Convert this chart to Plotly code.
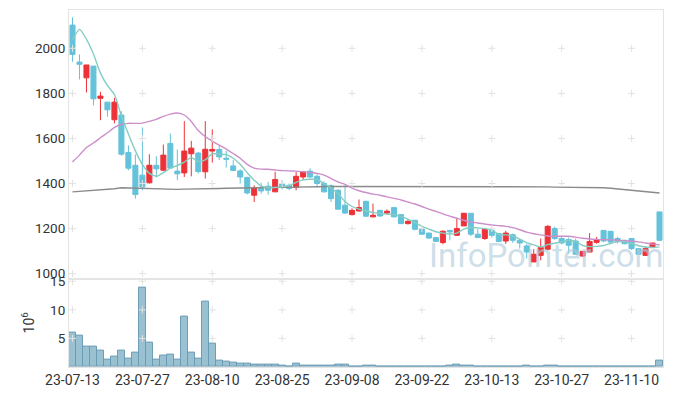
import plotly.graph_objects as go
from plotly.subplots import make_subplots

dates = [
    "23-07-13", "23-07-14", "23-07-17", "23-07-18", "23-07-19", "23-07-20", "23-07-21", "23-07-24", "23-07-25", "23-07-26",
    "23-07-27", "23-07-28", "23-07-31", "23-08-01", "23-08-02", "23-08-03", "23-08-04", "23-08-07", "23-08-08", "23-08-09",
    "23-08-10", "23-08-11", "23-08-14", "23-08-16", "23-08-17", "23-08-18", "23-08-21", "23-08-22", "23-08-23", "23-08-24",
    "23-08-25", "23-08-28", "23-08-29", "23-08-30", "23-08-31", "23-09-01", "23-09-04", "23-09-05", "23-09-06", "23-09-07",
    "23-09-08", "23-09-11", "23-09-12", "23-09-13", "23-09-14", "23-09-15", "23-09-18", "23-09-19", "23-09-20", "23-09-21",
    "23-09-22", "23-09-25", "23-09-26", "23-09-27", "23-10-04", "23-10-05", "23-10-06", "23-10-10", "23-10-11", "23-10-12",
    "23-10-13", "23-10-16", "23-10-17", "23-10-18", "23-10-19", "23-10-20", "23-10-23", "23-10-24", "23-10-25", "23-10-26",
    "23-10-27", "23-10-30", "23-10-31", "23-11-01", "23-11-02", "23-11-03", "23-11-06", "23-11-07", "23-11-08", "23-11-09",
    "23-11-10", "23-11-13", "23-11-14", "23-11-15", "23-11-16",
]

open_ = [
    2103, 1939, 1869, 1921, 1778, 1761, 1683, 1704, 1538, 1481,
    1437, 1403, 1481, 1459, 1578, 1455, 1447, 1532, 1535, 1452,
    1544, 1551, 1512, 1478, 1456, 1427, 1348, 1382, 1388, 1363,
    1400, 1392, 1382, 1429, 1455, 1432, 1400, 1390, 1370, 1304,
    1262, 1278, 1321, 1252, 1281, 1269, 1293, 1262, 1222, 1237,
    1200, 1180, 1160, 1138, 1192, 1170, 1212, 1268, 1175, 1156,
    1192, 1178, 1145, 1173, 1148, 1123, 1052, 1081, 1108, 1200,
    1156, 1151, 1145, 1078, 1096, 1139, 1192, 1188, 1156, 1148,
    1156, 1111, 1081, 1118, 1274,
]
high = [
    2138, 1973, 1926, 1921, 1807, 1761, 1780, 1721, 1570, 1529,
    1649, 1530, 1521, 1573, 1622, 1551, 1677, 1589, 1540, 1677,
    1640, 1567, 1545, 1504, 1463, 1430, 1392, 1404, 1407, 1452,
    1415, 1400, 1452, 1455, 1467, 1441, 1410, 1396, 1375, 1392,
    1290, 1329, 1323, 1311, 1283, 1285, 1295, 1262, 1241, 1237,
    1202, 1182, 1162, 1192, 1194, 1249, 1268, 1268, 1200, 1200,
    1203, 1180, 1190, 1178, 1156, 1133, 1109, 1156, 1215, 1209,
    1163, 1160, 1156, 1099, 1180, 1163, 1192, 1188, 1163, 1150,
    1158, 1111, 1120, 1136, 1274,
]
low = [
    1940, 1862, 1804, 1747, 1681, 1696, 1667, 1523, 1459, 1333,
    1370, 1400, 1427, 1455, 1468, 1415, 1429, 1432, 1444, 1422,
    1493, 1504, 1471, 1456, 1400, 1352, 1318, 1355, 1351, 1363,
    1373, 1370, 1370, 1415, 1425, 1382, 1360, 1318, 1283, 1265,
    1258, 1276, 1253, 1250, 1252, 1262, 1250, 1220, 1218, 1192,
    1172, 1155, 1140, 1130, 1148, 1167, 1212, 1167, 1160, 1150,
    1160, 1140, 1132, 1136, 1111, 1067, 1052, 1059, 1104, 1150,
    1130, 1089, 1086, 1075, 1096, 1133, 1140, 1136, 1133, 1130,
    1105, 1083, 1078, 1116, 1145,
]
close = [
    1973, 1929, 1926, 1776, 1788, 1727, 1761, 1530, 1468, 1351,
    1385, 1481, 1465, 1526, 1469, 1443, 1544, 1557, 1453, 1552,
    1551, 1518, 1508, 1458, 1429, 1358, 1382, 1367, 1370, 1418,
    1385, 1378, 1432, 1452, 1429, 1400, 1363, 1333, 1286, 1269,
    1281, 1293, 1255, 1259, 1256, 1277, 1252, 1222, 1232, 1197,
    1175, 1158, 1143, 1188, 1185, 1200, 1268, 1175, 1160, 1197,
    1170, 1143, 1180, 1148, 1136, 1096, 1086, 1116, 1210, 1156,
    1136, 1126, 1086, 1099, 1143, 1149, 1145, 1140, 1143, 1133,
    1111, 1086, 1111, 1136, 1148,
]

ma_short = [
    2037, 2084, 2040, 1975, 1890, 1835, 1795, 1700, 1620, 1545,
    1485, 1445, 1432, 1448, 1468, 1480, 1495, 1515, 1498, 1505,
    1533, 1530, 1528, 1512, 1485, 1448, 1415, 1388, 1382, 1382,
    1386, 1390, 1405, 1416, 1419, 1418, 1400, 1380, 1355, 1320,
    1298, 1286, 1278, 1272, 1267, 1264, 1262, 1254, 1242, 1226,
    1210, 1198, 1186, 1180, 1176, 1180, 1198, 1205, 1203, 1200,
    1193, 1175, 1172, 1167, 1153, 1138, 1128, 1118, 1129, 1135,
    1141, 1147, 1143, 1125, 1120, 1121, 1125, 1134, 1142, 1141,
    1134, 1124, 1118, 1116, 1119,
]
ma_mid = [
    1496, 1526, 1560, 1580, 1603, 1625, 1649, 1662, 1667, 1667,
    1668, 1676, 1685, 1698, 1708, 1713, 1704, 1675, 1635, 1608,
    1588, 1570, 1553, 1533, 1512, 1485, 1468, 1464, 1463, 1460,
    1457, 1456, 1455, 1452, 1449, 1445, 1437, 1422, 1407, 1396,
    1380, 1368, 1360, 1353, 1348, 1341, 1334, 1327, 1318, 1309,
    1298, 1286, 1276, 1265, 1255, 1245, 1237, 1229, 1225, 1220,
    1216, 1213, 1210, 1204, 1195, 1184, 1177, 1172, 1167, 1166,
    1166, 1166, 1162, 1157, 1154, 1152, 1151, 1150, 1148, 1146,
    1144, 1141, 1136, 1131, 1128,
]
ma_long = [
    1363, 1365, 1367, 1369, 1371, 1374, 1377, 1381, 1380, 1378,
    1376, 1375, 1374, 1373, 1373, 1374, 1375, 1375, 1376, 1377,
    1377, 1378, 1379, 1380, 1380, 1381, 1381, 1382, 1382, 1383,
    1383, 1384, 1384, 1385, 1386, 1386, 1386, 1387, 1387, 1387,
    1387, 1388, 1388, 1388, 1388, 1388, 1388, 1388, 1388, 1388,
    1388, 1388, 1388, 1388, 1388, 1388, 1388, 1388, 1387, 1387,
    1387, 1387, 1386, 1386, 1386, 1386, 1385, 1385, 1385, 1384,
    1384, 1384, 1384, 1383, 1383, 1382, 1381, 1379, 1376, 1373,
    1370, 1367, 1364, 1361, 1358,
]

volume_m = [
    6.0, 5.5, 3.5, 3.5, 2.9, 1.25, 1.76, 2.8, 1.4, 2.45,
    13.9, 4.3, 1.25, 1.93, 2.1, 1.25, 8.75, 2.6, 1.4, 11.5,
    4.15, 1.08, 0.9, 0.74, 0.57, 0.57, 0.4, 0.4, 0.4, 0.45,
    0.3, 0.12, 0.62, 0.3, 0.3, 0.3, 0.3, 0.3, 0.45, 0.45,
    0.12, 0.12, 0.3, 0.3, 0.03, 0.03, 0.12, 0.12, 0.03, 0.12,
    0.03, 0.12, 0.12, 0.12, 0.3, 0.45, 0.3, 0.3, 0.12, 0.03,
    0.12, 0.12, 0.12, 0.12, 0.12, 0.3, 0.12, 0.12, 0.3, 0.3,
    0.12, 0.03, 0.12, 0.12, 0.12, 0.03, 0.12, 0.03, 0.03, 0.03,
    0.03, 0.03, 0.03, 0.12, 1.1,
]

price_ticks = [1000, 1200, 1400, 1600, 1800, 2000]
volume_ticks = [5, 10, 15]
x_ticks = dates[::10]

FONT = "Roboto, sans-serif"
TXT = "#333333"
GRID = "#e2e2e2"
FRAME = "#e4e4e4"

# the page body adds an 8px offset; the figure is sized to fill the rest
PAGE_OFFSET = 8

fig = make_subplots(rows=2, cols=1, shared_xaxes=True, vertical_spacing=0,
                    row_heights=[0.7524, 0.2476])

fig.add_trace(go.Scatter(x=dates, y=ma_long, mode="lines", showlegend=False,
                         line=dict(color="#8a8a8a", width=1.4)), row=1, col=1)
fig.add_trace(go.Scatter(x=dates, y=ma_mid, mode="lines", showlegend=False,
                         line=dict(color="#cc8fca", width=1.4, shape="spline", smoothing=0.6)), row=1, col=1)
fig.add_trace(go.Scatter(x=dates, y=ma_short, mode="lines", showlegend=False,
                         line=dict(color="#85cdc2", width=1.4, shape="spline", smoothing=0.6)), row=1, col=1)

fig.add_trace(go.Candlestick(
    x=dates, open=open_, high=high, low=low, close=close, showlegend=False,
    increasing=dict(line=dict(color="#ec3238", width=1), fillcolor="#ec3238"),
    decreasing=dict(line=dict(color="#64c2da", width=1), fillcolor="#64c2da"),
    whiskerwidth=0,
), row=1, col=1)

fig.add_trace(go.Bar(x=dates, y=volume_m, showlegend=False,
                     marker=dict(color="rgba(125,175,197,0.78)",
                                 line=dict(color="rgba(105,155,180,0.95)", width=1))),
              row=2, col=1)

# grid crosses at tick intersections
gx = [x for x in x_ticks for _ in price_ticks]
gy = [y for _ in x_ticks for y in price_ticks]
fig.add_trace(go.Scatter(x=gx, y=gy, mode="markers", hoverinfo="skip", showlegend=False,
                         marker=dict(symbol="cross-thin", size=5, line=dict(color=GRID, width=1))),
              row=1, col=1)
vx = [x for x in x_ticks for _ in volume_ticks]
vy = [y for _ in x_ticks for y in volume_ticks]
fig.add_trace(go.Scatter(x=vx, y=vy, mode="markers", hoverinfo="skip", showlegend=False,
                         marker=dict(symbol="cross-thin", size=5, line=dict(color=GRID, width=1))),
              row=2, col=1)

fig.update_layout(
    width=673 - PAGE_OFFSET, height=396 - PAGE_OFFSET,
    margin=dict(l=69 - PAGE_OFFSET, r=10, t=10 - PAGE_OFFSET, b=29, autoexpand=False),
    paper_bgcolor="white", plot_bgcolor="white",
    font=dict(family=FONT, size=13, color=TXT),
    bargap=0,
    boxgap=0.28, boxgroupgap=0,
    hovermode=False,
)
fig.update_xaxes(type="category", categoryorder="array", categoryarray=dates,
                 range=[-0.5, len(dates) - 0.5], automargin=False,
                 tickmode="array", tickvals=x_ticks, ticktext=x_ticks, tickangle=0,
                 showgrid=False, zeroline=False, showline=True, mirror=True,
                 linecolor=FRAME, linewidth=1, ticks="", rangeslider_visible=False)
fig.update_xaxes(showticklabels=False, row=1, col=1)
fig.update_xaxes(tickfont=dict(family=FONT, size=14, color=TXT), row=2, col=1)
fig.update_yaxes(range=[978, 2170], tickmode="array", tickvals=price_ticks, automargin=False,
                 tickfont=dict(family=FONT, size=13.5, color=TXT),
                 showgrid=False, zeroline=False, showline=True, mirror=True,
                 linecolor=FRAME, linewidth=1, ticks="", row=1, col=1)
fig.update_yaxes(range=[0, 15.47], tickmode="array", tickvals=volume_ticks, automargin=False,
                 tickfont=dict(family=FONT, size=13.5, color=TXT),
                 showgrid=False, zeroline=False, showline=True, mirror=True,
                 linecolor=FRAME, linewidth=1, ticks="",
                 title=dict(text="10<sup>6</sup>", standoff=12, font=dict(size=14, color=TXT)),
                 row=2, col=1)

fig.add_annotation(text="InfoPointer.com", xref="paper", yref="paper",
                   x=0.803, y=0.311, xanchor="center", yanchor="middle", showarrow=False,
                   font=dict(family="Roboto, sans-serif", size=33,
                             color="rgba(176,204,219,0.65)"))

fig.write_html("out.html")
